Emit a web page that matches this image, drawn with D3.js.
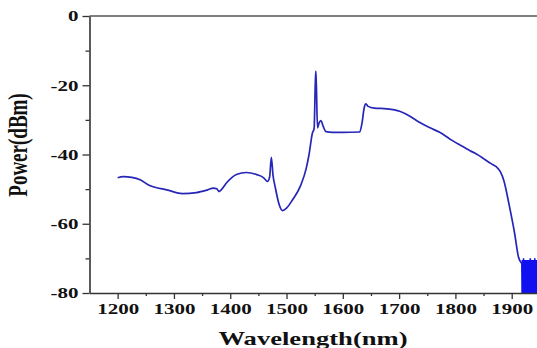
<!DOCTYPE html>
<html>
<head>
<meta charset="utf-8">
<script src="https://cdn.jsdelivr.net/npm/d3@7"></script>
<style>
  html, body { margin: 0; padding: 0; background: #fff; overflow: hidden; }
  .chart text { font-family: "Liberation Serif", "Times New Roman", serif; font-weight: bold; fill: #111; }
</style>
</head>
<body>
<div class="chart"></div>
<script>
// spectrum
const wavelength = [1200, 1210, 1225, 1240, 1255, 1265, 1287, 1315, 1340, 1360, 1370, 1376, 1380, 1384,
  1394, 1411, 1429, 1447, 1460, 1466, 1470, 1473, 1476, 1480, 1487, 1493, 1500, 1511, 1525, 1535,
  1540, 1546, 1549, 1551, 1552, 1553, 1555, 1558, 1561, 1565, 1570, 1582, 1600, 1630, 1634, 1638,
  1641, 1645, 1656, 1678, 1701, 1720, 1736, 1755, 1772, 1790, 1805, 1813, 1826, 1838, 1843, 1850,
  1860, 1866, 1873, 1880, 1886, 1896, 1905, 1912, 1918];
const power = [-46.7, -46.4, -46.6, -47.3, -48.8, -49.4, -50.2, -51.3, -51.0, -50.2, -49.7, -49.9, -50.7, -50.2,
  -48.1, -45.8, -45.2, -45.8, -46.8, -47.8, -46.5, -40.8, -46.0, -49.5, -54.5, -56.2, -55.5, -53.0, -49.0, -44.0,
  -40.0, -33.8, -32.5, -20.0, -15.9, -20.0, -32.3, -30.8, -30.2, -31.8, -33.4, -33.6, -33.6, -33.5, -31.0, -26.5,
  -25.4, -26.1, -26.6, -26.8, -27.5, -29.0, -30.7, -32.3, -33.6, -35.5, -37.0, -37.7, -38.9, -39.9, -40.4, -41.2,
  -42.3, -42.9, -43.6, -45.0, -47.5, -55.0, -62.6, -69.6, -71.5];

// noise floor at the right edge
const noiseWl = [1918, 1918.5, 1919, 1919.5, 1920, 1920.5, 1921, 1921.5, 1922, 1922.5, 1923, 1923.5,
  1924, 1924.5, 1925, 1925.5, 1926, 1926.5, 1927, 1927.5, 1928, 1928.5, 1929, 1929.5, 1930, 1930.5,
  1931, 1931.5, 1932, 1932.5, 1933, 1933.5, 1934, 1934.5, 1935, 1935.5, 1936, 1936.5, 1937, 1937.5,
  1938, 1938.5, 1939, 1939.5, 1940, 1940.5, 1941, 1941.5, 1942, 1942.5, 1943, 1943.5, 1944, 1944.5,
  1945, 1945.5, 1946];
const noisePow = [-71.5, -80, -70.5, -80, -71, -79.5, -70, -80, -72, -80, -70.5, -80,
  -71, -79.5, -70.5, -80, -72, -80, -70.5, -79.5, -71, -80, -70.5, -80, -71.5, -80,
  -70.5, -80, -71, -80, -70, -79.5, -71.5, -80, -70.5, -80, -72, -80, -70.5, -79.5,
  -71, -80, -70.5, -80, -71.5, -80, -70, -80, -71, -79.5, -70.5, -80, -72, -80,
  -70.5, -80, -71];

const xMajor = [1200, 1300, 1400, 1500, 1600, 1700, 1800, 1900];
const xMinor = [1250, 1350, 1450, 1550, 1650, 1750, 1850, 1950];
const yMajor = [0, -20, -40, -60, -80];
const yMinor = [-10, -30, -50, -70];

const width = 537, height = 348;
const stretch = 1.4;

let svg = d3.select(".chart").append("svg")
  .attr("width", width)
  .attr("height", height);

let x = d3.scaleLinear().domain([1150, 2000]).range([89.5, 568]);
let y = d3.scaleLinear().domain([-80, 0]).range([293, 16]);

// top frame line
svg.append("line")
  .attr("x1", x(1150)).attr("x2", x(2000))
  .attr("y1", y(0)).attr("y2", y(0))
  .attr("stroke", "#555").attr("stroke-width", 1.5);

// spectrum
let line = d3.line()
  .x((d, i) => x(wavelength[i]))
  .y(d => y(d))
  .curve(d3.curveMonotoneX);

svg.append("path")
  .datum(power)
  .attr("fill", "none")
  .attr("stroke", "#2626b8")
  .attr("stroke-width", 1.7)
  .attr("d", line);

let noiseLine = d3.line()
  .x((d, i) => x(noiseWl[i]))
  .y(d => y(d));

svg.append("path")
  .datum(noisePow)
  .attr("fill", "none")
  .attr("stroke", "#1010f0")
  .attr("stroke-width", 1.6)
  .attr("d", noiseLine);

// x axis
let xAxisGroup = svg.append("g")
  .attr("class", "xAxisGroup")
  .attr("transform", "translate(0," + y(-80) + ")");

xAxisGroup.call(d3.axisBottom(x).tickValues(xMajor).tickFormat(d3.format("d"))
  .tickSize(6).tickPadding(4).tickSizeOuter(0));

svg.append("g")
  .attr("transform", "translate(0," + y(-80) + ")")
  .call(d3.axisBottom(x).tickValues(xMinor).tickSize(3).tickFormat("").tickSizeOuter(0))
  .select(".domain").remove();

// y axis
let yAxisGroup = svg.append("g")
  .attr("class", "yAxisGroup")
  .attr("transform", "translate(" + x(1150) + ",0)");

yAxisGroup.call(d3.axisLeft(y).tickValues(yMajor).tickFormat(d => String(d))
  .tickSize(7).tickPadding(4).tickSizeOuter(0));

svg.append("g")
  .attr("transform", "translate(" + x(1150) + ",0)")
  .call(d3.axisLeft(y).tickValues(yMinor).tickSize(4).tickFormat("").tickSizeOuter(0))
  .select(".domain").remove();

svg.selectAll(".domain").attr("stroke", "#333").attr("stroke-width", 1.6);
svg.selectAll(".tick line").attr("stroke", "#333").attr("stroke-width", 1.3);

xAxisGroup.selectAll(".tick text")
  .attr("font-size", 15)
  .attr("transform", "scale(" + stretch + ",1)");

yAxisGroup.selectAll(".tick text")
  .attr("font-size", 15)
  .attr("x", -11 / stretch)
  .attr("transform", "scale(" + stretch + ",1)");

// axis titles
svg.append("text")
  .attr("transform", "translate(313,345) scale(" + stretch + ",1)")
  .attr("text-anchor", "middle")
  .attr("font-size", 19)
  .text("Wavelength(nm)");

svg.append("text")
  .attr("transform", "translate(27,145) scale(" + stretch + ",1) rotate(-90)")
  .attr("text-anchor", "middle")
  .attr("font-size", 19)
  .text("Power(dBm)");
</script>
</body>
</html>
